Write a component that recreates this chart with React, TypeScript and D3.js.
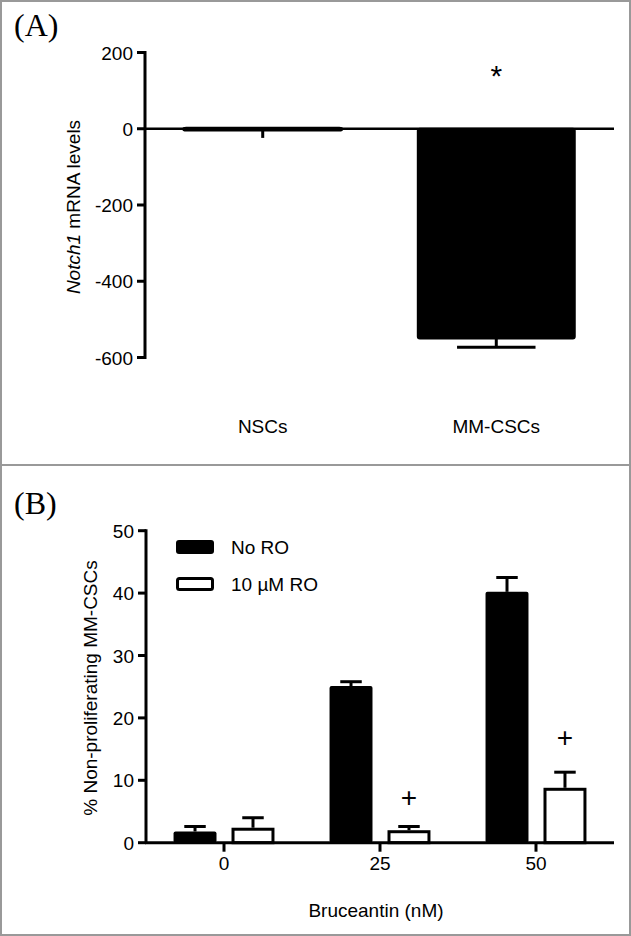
import React from "react";
import * as d3 from "d3";

// Panel A data
const catsA = ["NSCs", "MM-CSCs"];
const valuesA = [-2, -550];
const errorsA = [-22, -23];
const capA = [false, true];
const ticksA = [-600, -400, -200, 0, 200];
const sigA = ["", "*"];
const sigAPos = [0, 155];

// Panel B data
const dosesB = ["0", "25", "50"];
const seriesB = ["No RO", "10 \u00B5M RO"];
const noRO = [1.8, 25.1, 40.2];
const noROErr = [0.8, 0.7, 2.3];
const withRO = [2.4, 2.0, 8.8];
const withROErr = [1.6, 0.6, 2.5];
const sigB = ["", "+", "+"];
const sigBPos = [0, 7.3, 17];
const ticksB = [0, 10, 20, 30, 40, 50];

const W = 631;
const H = 936;
const FONT = "'Liberation Sans', Arial, Helvetica, sans-serif";
const FS = 19;

export default function App() {
  // ---------- Panel A ----------
  const yA = d3.scaleLinear().domain([-600, 200]).range([357.5, 52.5]);
  const xA = d3
    .scaleBand<string>()
    .domain(catsA)
    .range([145, 614])
    .paddingInner(0.328)
    .paddingOuter(0.168);
  const bwA = xA.bandwidth();

  // ---------- Panel B ----------
  const yB = d3.scaleLinear().domain([0, 50]).range([842.7, 530.7]);
  const xB = d3
    .scaleBand<string>()
    .domain(dosesB)
    .range([145, 615])
    .paddingInner(0.353)
    .paddingOuter(0.183);
  const xInner = d3
    .scaleBand<string>()
    .domain(seriesB)
    .range([0, xB.bandwidth()])
    .paddingInner(0.259)
    .paddingOuter(0);
  const bwB = xInner.bandwidth();

  const groupsB = dosesB.map((d, i) => ({
    dose: d,
    bars: [
      { s: seriesB[0], v: noRO[i], e: noROErr[i], fill: "#000" },
      { s: seriesB[1], v: withRO[i], e: withROErr[i], fill: "#fff" },
    ],
    sig: sigB[i],
    sigPos: sigBPos[i],
  }));

  return (
    <svg
      width={W}
      height={H}
      style={{ position: "absolute", left: 0, top: 0, background: "#fff" }}
      fontFamily={FONT}
    >
      <rect x={0} y={0} width={W} height={H} fill="#fff" />
      {/* frame */}
      <rect x={1} y={1} width={W - 2} height={H - 2} fill="none" stroke="#999" strokeWidth={2} />
      <line x1={0} x2={W} y1={465} y2={465} stroke="#999" strokeWidth={2} />

      {/* ---------- Panel A ---------- */}
      <text x={14} y={36} fontFamily="'Liberation Serif', 'Times New Roman', serif" fontSize={32}>
        (A)
      </text>

      {/* bars */}
      {catsA.map((c, i) => {
        const x0 = xA(c)!;
        const y0 = yA(0);
        const y1 = yA(valuesA[i]);
        const top = Math.min(y0, y1);
        const h = Math.abs(y1 - y0);
        const cx = x0 + bwA / 2;
        const ye = yA(valuesA[i] + errorsA[i]);
        return (
          <g key={c}>
            <rect
              x={x0}
              y={top}
              width={bwA}
              height={Math.max(h, 0.5)}
              fill="#000"
              stroke="#000"
              strokeWidth={i === 0 ? 4 : 2}
              rx={2}
            />
            <line x1={cx} x2={cx} y1={y1} y2={ye} stroke="#000" strokeWidth={3} />
            {capA[i] && (
              <line x1={cx - bwA / 4} x2={cx + bwA / 4} y1={ye} y2={ye} stroke="#000" strokeWidth={3} />
            )}
            {sigA[i] && (
              <text x={cx} y={yA(sigAPos[i]) + 16} textAnchor="middle" fontSize={30}>
                {sigA[i]}
              </text>
            )}
          </g>
        );
      })}

      {/* zero line */}
      <line x1={145} x2={614} y1={yA(0)} y2={yA(0)} stroke="#000" strokeWidth={2.5} />

      {/* y axis A */}
      <line x1={145} x2={145} y1={yA(200) - 1.5} y2={yA(-600) + 1.5} stroke="#000" strokeWidth={3} />
      {ticksA.map((t) => (
        <g key={t}>
          <line x1={137} x2={145} y1={yA(t)} y2={yA(t)} stroke="#000" strokeWidth={3} />
          <text x={133} y={yA(t) + 7} textAnchor="end" fontSize={FS}>
            {t}
          </text>
        </g>
      ))}
      <text transform={`translate(80, 207) rotate(-90)`} textAnchor="middle" fontSize={FS}>
        <tspan fontStyle="italic">Notch1</tspan> mRNA levels
      </text>

      {/* x labels A */}
      {catsA.map((c) => (
        <text key={c} x={xA(c)! + bwA / 2} y={433} textAnchor="middle" fontSize={FS}>
          {c}
        </text>
      ))}

      {/* ---------- Panel B ---------- */}
      <text x={14} y={514} fontFamily="'Liberation Serif', 'Times New Roman', serif" fontSize={32}>
        (B)
      </text>

      {groupsB.map((g) => {
        const gx = xB(g.dose)!;
        return (
          <g key={g.dose} transform={`translate(${gx},0)`}>
            {g.bars.map((b) => {
              const bx = xInner(b.s)!;
              const cx = bx + bwB / 2;
              const yt = yB(b.v);
              const ye = yB(b.v + b.e);
              const isWhite = b.fill === "#fff";
              return (
                <g key={b.s}>
                  <line x1={cx} x2={cx} y1={yt} y2={ye} stroke="#000" strokeWidth={3} />
                  <line x1={cx - bwB / 4} x2={cx + bwB / 4} y1={ye} y2={ye} stroke="#000" strokeWidth={3} />
                  {isWhite ? (
                    <rect
                      x={bx + 1.5}
                      y={yt + 1.5}
                      width={bwB - 3}
                      height={yB(0) - yt - 1.5}
                      fill="#fff"
                      stroke="#000"
                      strokeWidth={3}
                    />
                  ) : (
                    <rect x={bx} y={yt} width={bwB} height={yB(0) - yt} fill="#000" rx={2} />
                  )}
                </g>
              );
            })}
            {g.sig && (
              <text
                x={xInner(seriesB[1])! + bwB / 2}
                y={yB(g.sigPos) + 10}
                textAnchor="middle"
                fontSize={28}
              >
                {g.sig}
              </text>
            )}
          </g>
        );
      })}

      {/* x axis B */}
      <line x1={145} x2={614} y1={yB(0)} y2={yB(0)} stroke="#000" strokeWidth={3} />
      {dosesB.map((d) => (
        <g key={d}>
          <line
            x1={xB(d)! + xB.bandwidth() / 2}
            x2={xB(d)! + xB.bandwidth() / 2}
            y1={yB(0)}
            y2={yB(0) + 9}
            stroke="#000"
            strokeWidth={3}
          />
          <text x={xB(d)! + xB.bandwidth() / 2} y={870} textAnchor="middle" fontSize={FS}>
            {d}
          </text>
        </g>
      ))}

      {/* y axis B */}
      <line x1={146} x2={146} y1={yB(50) - 1.5} y2={yB(0)} stroke="#000" strokeWidth={3} />
      {ticksB.map((t) => (
        <g key={t}>
          <line x1={138} x2={146} y1={yB(t)} y2={yB(t)} stroke="#000" strokeWidth={3} />
          <text x={134} y={yB(t) + 7} textAnchor="end" fontSize={FS}>
            {t}
          </text>
        </g>
      ))}
      <text transform={`translate(97, 688) rotate(-90)`} textAnchor="middle" fontSize={FS}>
        % Non-proliferating MM-CSCs
      </text>
      <text x={376} y={917} textAnchor="middle" fontSize={FS}>
        Bruceantin (nM)
      </text>

      {/* legend */}
      {seriesB.map((s, i) => (
        <g key={s} transform={`translate(176, ${540 + i * 37})`}>
          {i === 0 ? (
            <rect x={0} y={0} width={38} height={14} fill="#000" rx={3} />
          ) : (
            <rect x={1.5} y={1.5} width={35} height={11} fill="#fff" stroke="#000" strokeWidth={3} rx={2} />
          )}
          <text x={55} y={14} fontSize={FS}>
            {s}
          </text>
        </g>
      ))}
    </svg>
  );
}
